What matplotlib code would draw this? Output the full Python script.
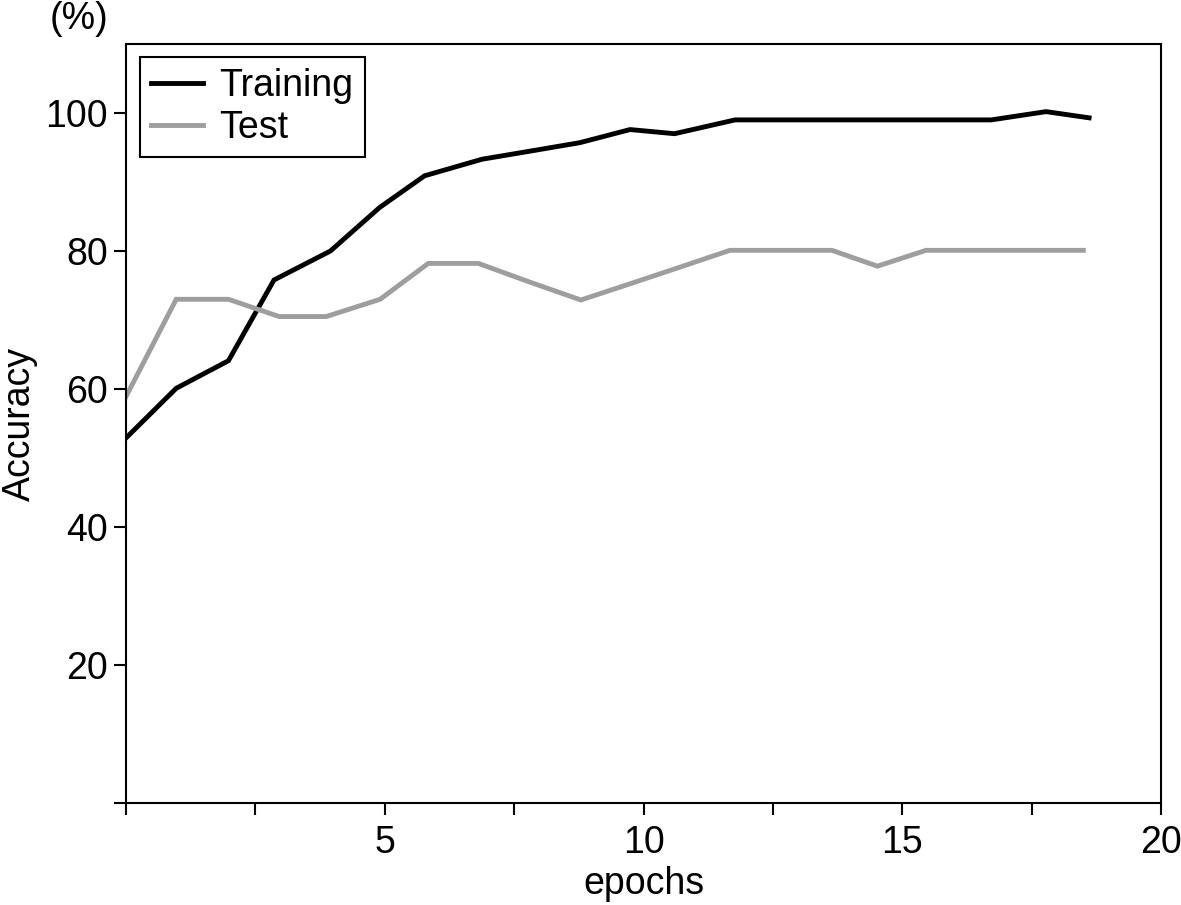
import matplotlib
matplotlib.use("Agg")
import matplotlib.pyplot as plt

# Data
train_x = [0, 0.97, 1.98, 2.86, 3.95, 4.90, 5.77, 6.88, 7.83, 8.77,
           9.74, 10.60, 11.77, 12.75, 13.70, 14.70, 15.70, 16.72, 17.78, 18.61]
train_y = [52.9, 60.1, 64.1, 75.8, 80.0, 86.3, 90.9, 93.3, 94.5, 95.7,
           97.6, 97.0, 99.0, 99.0, 99.0, 99.0, 99.0, 99.0, 100.2, 99.3]

test_x = [0, 0.97, 1.98, 2.96, 3.87, 4.91, 5.84, 6.81, 7.80, 8.79,
          9.76, 10.72, 11.67, 12.65, 13.64, 14.52, 15.46, 16.50, 17.50, 18.50]
test_y = [58.9, 73.0, 73.0, 70.5, 70.5, 73.0, 78.2, 78.2, 75.5, 72.9,
          75.3, 77.7, 80.1, 80.1, 80.1, 77.8, 80.1, 80.1, 80.1, 80.1]

x_ticks = [0, 2.5, 5, 7.5, 10, 12.5, 15, 17.5, 20]
x_tick_labels = ["", "", "5", "", "10", "", "15", "", "20"]
y_ticks = [0, 20, 40, 60, 80, 100]
y_tick_labels = ["", "20", "40", "60", "80", "100"]

plt.rcParams['font.family'] = ['Liberation Sans', 'DejaVu Sans']
FS = 27

fig = plt.figure(figsize=(11.81, 9.05), dpi=100)
ax = fig.add_axes([126/1181, 1 - 803/905, (1161-126)/1181, (803-44)/905])

ax.plot(train_x, train_y, color='black', lw=3.5, label='Training', solid_joinstyle='miter')
ax.plot(test_x, test_y, color='#9e9e9e', lw=3.5, label='Test', solid_joinstyle='miter')

ax.set_xlim(0, 20)
ax.set_ylim(0, 110)
ax.set_xticks(x_ticks)
ax.set_xticklabels(x_tick_labels)
ax.set_yticks(y_ticks)
ax.set_yticklabels(y_tick_labels)
ax.tick_params(direction='out', length=8.6, width=1.5, labelsize=FS, colors='black')
ax.tick_params(axis='x', pad=7.5)
ax.tick_params(axis='y', pad=4.5)
for s in ax.spines.values():
    s.set_linewidth(1.5)
    s.set_color('black')

ax.set_xlabel('epochs', fontsize=FS, labelpad=3.5)
ax.set_ylabel('Accuracy', fontsize=FS)
ax.yaxis.set_label_coords(-0.085, 0.5)

fig.text(79/1181, 1 - 19/905, '(%)', fontsize=FS, ha='center', va='center')

leg = ax.legend(loc='upper left', bbox_to_anchor=(0.0135, 0.983), borderaxespad=0,
                fontsize=FS, frameon=True, fancybox=False, edgecolor='black',
                handlelength=1.39, handletextpad=0.43, borderpad=0.3, labelspacing=0.15)
leg.get_frame().set_linewidth(1.5)
leg.get_frame().set_alpha(1)

fig.savefig('out.png', dpi=100)
